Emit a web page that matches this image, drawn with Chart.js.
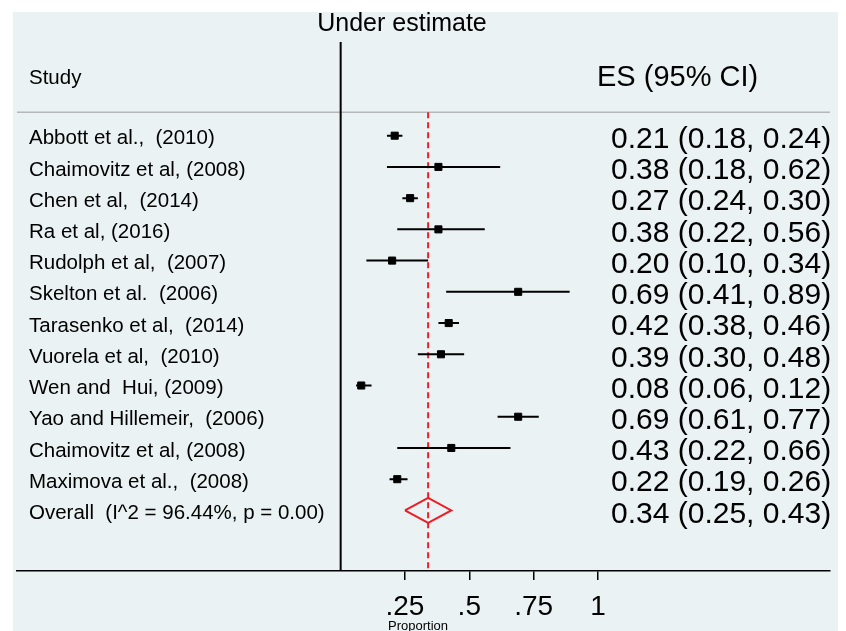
<!DOCTYPE html>
<html>
<head>
<meta charset="utf-8">
<script src="https://cdn.jsdelivr.net/npm/chart.js@4"></script>
<style>
html,body{margin:0;padding:0;background:#ffffff;}
canvas{display:block;}
</style>
</head>
<body>
<canvas id="c" width="846" height="631"></canvas>
<script>
const studies = [
  "Abbott et al.,  (2010)",
  "Chaimovitz et al, (2008)",
  "Chen et al,  (2014)",
  "Ra et al, (2016)",
  "Rudolph et al,  (2007)",
  "Skelton et al.  (2006)",
  "Tarasenko et al,  (2014)",
  "Vuorela et al,  (2010)",
  "Wen and  Hui, (2009)",
  "Yao and Hillemeir,  (2006)",
  "Chaimovitz et al, (2008)",
  "Maximova et al.,  (2008)"
];
const es     = [0.21, 0.38, 0.27, 0.38, 0.20, 0.69, 0.42, 0.39, 0.08, 0.69, 0.43, 0.22];
const ciLow  = [0.18, 0.18, 0.24, 0.22, 0.10, 0.41, 0.38, 0.30, 0.06, 0.61, 0.22, 0.19];
const ciHigh = [0.24, 0.62, 0.30, 0.56, 0.34, 0.89, 0.46, 0.48, 0.12, 0.77, 0.66, 0.26];
const overallLabel = "Overall  (I^2 = 96.44%, p = 0.00)";
const overallES = 0.34;
const overallLow = 0.25;
const overallHigh = 0.43;
const tickValues = [0.25, 0.5, 0.75, 1];
const tickLabels = [".25", ".5", ".75", "1"];

const FONT = "'Liberation Sans', Arial, Helvetica, sans-serif";
const Y_MIN = -3, Y_MAX = 13.94;
const overallRow = studies.length;

const ciData = [];
studies.forEach((s, i) => {
  ciData.push({x: ciLow[i], y: i});
  ciData.push({x: ciHigh[i], y: i});
  ciData.push({x: ciHigh[i], y: null});
});
const pointData = es.map((v, i) => ({x: v, y: i}));
const diamondData = [
  {x: overallLow, y: overallRow},
  {x: overallES, y: overallRow - 0.4},
  {x: overallHigh, y: overallRow},
  {x: overallES, y: overallRow + 0.4},
  {x: overallLow, y: overallRow}
];

const fmt = v => v.toFixed(2);

const decor = {
  id: 'decor',
  beforeDraw(chart) {
    const ctx = chart.ctx;
    ctx.save();
    ctx.fillStyle = '#ffffff';
    ctx.fillRect(0, 0, chart.width, chart.height);
    ctx.fillStyle = '#eaf2f3';
    ctx.fillRect(13, 12, 825, chart.height - 12);
    const ys = chart.scales.y;
    const ca = chart.chartArea;
    const sepY = ys.getPixelForValue(-0.75);
    ctx.strokeStyle = '#b4b8b9';
    ctx.lineWidth = 1.5;
    ctx.beginPath();
    ctx.moveTo(ca.left, sepY);
    ctx.lineTo(ca.right, sepY);
    ctx.stroke();
    ctx.restore();
  },
  afterDraw(chart) {
    const ctx = chart.ctx;
    const ys = chart.scales.y;
    ctx.save();
    ctx.fillStyle = '#000000';
    ctx.textBaseline = 'middle';
    ctx.textAlign = 'center';
    ctx.font = '25px ' + FONT;
    ctx.fillText('Under estimate', 402, ys.getPixelForValue(-3.56));
    ctx.textAlign = 'left';
    ctx.font = '20.5px ' + FONT;
    ctx.fillText('Study', 29, ys.getPixelForValue(-1.85));
    ctx.font = '29px ' + FONT;
    ctx.fillText('ES (95% CI)', 597, ys.getPixelForValue(-1.85));
    studies.forEach((s, i) => {
      const py = ys.getPixelForValue(i);
      ctx.font = '20.5px ' + FONT;
      ctx.fillText(s, 29, py + 3);
      ctx.font = '30px ' + FONT;
      ctx.fillText(fmt(es[i]) + ' (' + fmt(ciLow[i]) + ', ' + fmt(ciHigh[i]) + ')', 611, py + 4);
    });
    const po = ys.getPixelForValue(overallRow);
    ctx.font = '20.5px ' + FONT;
    ctx.fillText(overallLabel, 29, po + 3);
    ctx.font = '30px ' + FONT;
    ctx.fillText(fmt(overallES) + ' (' + fmt(overallLow) + ', ' + fmt(overallHigh) + ')', 611, po + 4);
    ctx.textAlign = 'center';
    ctx.font = '13px ' + FONT;
    ctx.fillText('Proportion', 418, 626);
    ctx.restore();
  }
};

new Chart(document.getElementById('c'), {
  type: 'scatter',
  data: {
    datasets: [
      {
        label: 'null',
        type: 'line',
        data: [{x: 0, y: Y_MIN}, {x: 0, y: Y_MAX}],
        borderColor: '#000000',
        borderWidth: 2,
        pointRadius: 0,
        fill: false,
        clip: false,
        order: 5
      },
      {
        label: 'pooled',
        type: 'line',
        data: [{x: overallES, y: -0.75}, {x: overallES, y: Y_MAX}],
        borderColor: '#e8202a',
        borderWidth: 2,
        borderDash: [6, 4],
        pointRadius: 0,
        fill: false,
        order: 4
      },
      {
        label: 'CI',
        type: 'line',
        data: ciData,
        borderColor: '#000000',
        borderWidth: 2,
        pointRadius: 0,
        spanGaps: false,
        fill: false,
        order: 3
      },
      {
        label: 'ES',
        type: 'scatter',
        data: pointData,
        pointStyle: 'rect',
        pointRadius: 5,
        pointBorderWidth: 1,
        backgroundColor: '#000000',
        borderColor: '#000000',
        order: 2
      },
      {
        label: 'Overall',
        type: 'line',
        data: diamondData,
        borderColor: '#ee1c24',
        borderWidth: 2,
        pointRadius: 0,
        fill: false,
        tension: 0,
        order: 1
      }
    ]
  },
  options: {
    responsive: false,
    animation: false,
    events: [],
    layout: {padding: {top: 42, left: 17, right: 16, bottom: 0}},
    plugins: {legend: {display: false}, tooltip: {enabled: false}, title: {display: false}},
    scales: {
      x: {
        type: 'linear',
        min: -1.258,
        max: 1.902,
        afterBuildTicks(scale) {
          scale.ticks = tickValues.map(v => ({value: v}));
        },
        afterFit(scale) { scale.height = 60; },
        ticks: {
          autoSkip: false,
          maxRotation: 0,
          color: '#000000',
          padding: 10,
          font: {family: FONT, size: 28},
          callback: (v) => tickLabels[tickValues.indexOf(v)]
        },
        grid: {drawOnChartArea: false, drawTicks: true, tickLength: 9, color: '#000000', lineWidth: 1.5},
        border: {display: true, color: '#000000', width: 1.5}
      },
      y: {
        type: 'linear',
        reverse: true,
        min: Y_MIN,
        max: Y_MAX,
        display: false
      }
    }
  },
  plugins: [decor]
});
</script>
</body>
</html>
